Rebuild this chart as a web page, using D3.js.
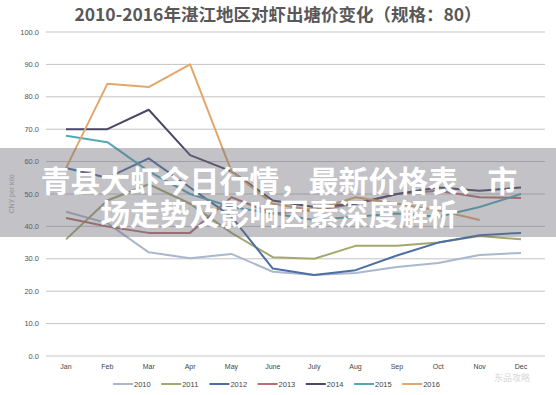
<!DOCTYPE html>
<html>
<head>
<meta charset="utf-8">
<title>湛江对虾出塘价</title>
<script src="https://d3js.org/d3.v7.min.js"></script>
<style>
body { margin: 0; background: #fff; }
.grid line { stroke: #c4c4c4; stroke-width: 1px; }
.series { fill: none; stroke-width: 2px; stroke-linejoin: round; }
</style>
</head>
<body>
<script>
var width = 556, height = 395;

// data (CNY per kilo)
var months = ["Jan","Feb","Mar","Apr","May","June","July","Aug","Sep","Oct","Nov","Dec"];
var years = ["2010","2011","2012","2013","2014","2015","2016"];
var yTicks = [0,10,20,30,40,50,60,70,80,90,100];
var v2010 = [44.5, 41, 32, 30.2, 31.5, 26, 25, 25.6, 27.5, 28.7, 31.2, 31.8];
var v2011 = [36, 48, 53, 47, 38, 30.5, 30, 34, 34, 35, 37, 36];
var v2012 = [58, 55, 61, 52, 43, 27, 25, 26.5, 31, 35, 37.3, 38];
var v2013 = [42.6, 40, 38, 38, 49, 44, 45, 47, 50, 51, 49, 48.8];
var v2014 = [70, 70, 76, 62, 57, 48, 46, 47, 50, 52, 51, 52];
var v2015 = [68, 66, 57, 50, 46, 44, 42, 43, 44, 43, 46, 50];
var v2016 = [58, 84, 83, 90, 57, 47, 45, 49, 47, 45, 42, null];
var colors = ["#aab8cd", "#a3a86c", "#4d6ea3", "#b86f6b", "#4a4866", "#55a8b7", "#e2a76b"];

var series = [v2010, v2011, v2012, v2013, v2014, v2015, v2016];

var svg = d3.select("body").append("svg")
    .attr("width", width)
    .attr("height", height)
    .style("font-family", "'Liberation Sans', Arial, sans-serif");

var x = d3.scalePoint().domain(months).range([66, 521]);
var y = d3.scaleLinear().domain([0, 100]).range([356, 32]);

// title
svg.append("text")
    .attr("x", 278).attr("y", 21)
    .attr("text-anchor", "middle")
    .style("font-family", "'Noto Sans CJK SC', sans-serif")
    .style("font-size", "17.5px")
    .style("font-weight", "bold")
    .style("fill", "#585858")
    .text("2010-2016年湛江地区对虾出塘价变化（规格：80）");

// gridlines
var grid = svg.append("g").attr("class", "grid");
grid.selectAll("line").data(yTicks).enter().append("line")
    .attr("x1", 46).attr("x2", 545)
    .attr("y1", function(d) { return y(d); })
    .attr("y2", function(d) { return y(d); });

// y labels
svg.append("g").selectAll("text").data(yTicks).enter().append("text")
    .attr("x", 39)
    .attr("y", function(d) { return y(d) + 2.5; })
    .attr("text-anchor", "end")
    .style("font-size", "7.5px")
    .style("fill", "#555")
    .text(function(d) { return d3.format(".1f")(d); });

svg.append("text")
    .attr("transform", "translate(14,194) rotate(-90)")
    .attr("text-anchor", "middle")
    .style("font-size", "7px")
    .style("fill", "#aaa")
    .text("CNY per kilo");

// x labels
svg.append("g").selectAll("text").data(months).enter().append("text")
    .attr("x", function(d) { return x(d); })
    .attr("y", 369)
    .attr("text-anchor", "middle")
    .style("font-size", "7px")
    .style("fill", "#444")
    .text(function(d) { return d; });

// lines
var line = d3.line()
    .defined(function(d) { return d != null; })
    .x(function(d, i) { return x(months[i]); })
    .y(function(d) { return y(d); });

svg.append("g").selectAll("path").data(series).enter().append("path")
    .attr("class", "series")
    .attr("d", line)
    .style("stroke", function(d, i) { return colors[i]; });

// legend
var legend = svg.append("g").selectAll("g").data(years).enter().append("g")
    .attr("transform", function(d, i) { return "translate(" + (113 + i * 48.2) + ",384)"; });
legend.append("line")
    .attr("x1", 0).attr("x2", 20).attr("y1", 0).attr("y2", 0)
    .style("stroke-width", 2)
    .style("stroke", function(d, i) { return colors[i]; });
legend.append("text")
    .attr("x", 21).attr("y", 2.5)
    .style("font-size", "7.5px")
    .style("fill", "#444")
    .text(function(d) { return d; });

// watermark corner
svg.append("text")
    .attr("x", 512).attr("y", 381)
    .attr("text-anchor", "middle")
    .style("font-family", "'Noto Sans CJK SC', sans-serif")
    .style("font-size", "9px")
    .style("fill", "#d8d8d8")
    .text("东品攻略");

// overlay banner, one wrapped text
svg.append("rect")
    .attr("x", 0).attr("y", 148)
    .attr("width", width).attr("height", 89)
    .style("fill", "rgba(110,110,122,0.42)");

var banner = ["青县大虾今日行情，最新价格表、市", "场走势及影响因素深度解析"];
var bannerText = svg.append("text")
    .attr("text-anchor", "middle")
    .style("font-family", "'Noto Sans CJK SC', sans-serif")
    .style("font-size", "29.8px")
    .style("font-weight", "bold")
    .style("fill", "#fff");
bannerText.selectAll("tspan").data(banner).enter().append("tspan")
    .attr("x", 279)
    .attr("y", function(d, i) { return 192 + i * 32.5; })
    .text(function(d) { return d; });
</script>
</body>
</html>
